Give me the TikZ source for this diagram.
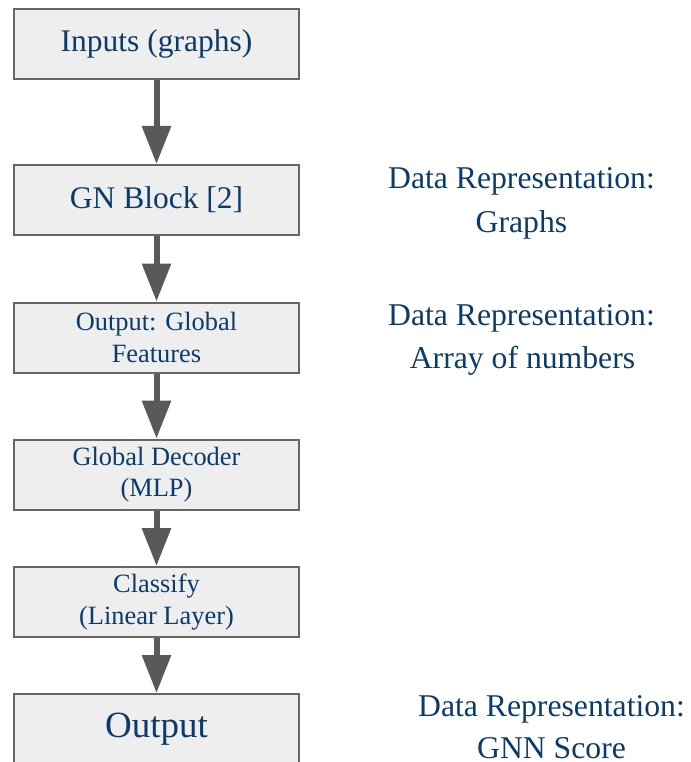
\documentclass[tikz,border=0pt]{standalone}
\usepackage{fontspec}
\setmainfont{Liberation Serif}
\usetikzlibrary{arrows.meta}
\definecolor{txtblue}{HTML}{0B3B6A}
\definecolor{boxfill}{HTML}{EEEEEE}
\definecolor{boxline}{HTML}{666666}
\definecolor{arrowgray}{HTML}{595959}
\tikzset{
  stepbox/.style={draw=boxline, line width=2pt, fill=boxfill, minimum width=285pt, minimum height=70pt, inner sep=0pt, align=center, text=txtblue},
  bigfont/.style={font=\fontsize{31.5}{36}\selectfont},
  smallfont/.style={font=\fontsize{26.4}{31.5}\selectfont},
  flowarrow/.style={draw=arrowgray, line width=6pt, -{Triangle[width=28pt,length=38pt]}, arrowgray},
  reptext/.style={text=txtblue, anchor=base, inner sep=0pt, font=\fontsize{31.7}{40}\selectfont}
}
\begin{document}
\begin{tikzpicture}[x=1pt,y=-1pt]
\useasboundingbox (0,0) rectangle (690,762);
\begin{scope}
\clip (0,0) rectangle (690,762);
\node[stepbox, bigfont] (b1) at (156.5,44) {Inputs (graphs)};
\node[stepbox, bigfont] (b2) at (156.5,200) {GN Block [2]};
\node[stepbox, smallfont] (b3) at (156.5,337.5) {Output: Global\\Features};
\node[stepbox, smallfont] (b4) at (156.5,474.5) {Global Decoder\\(MLP)};
\node[stepbox, smallfont] (b5) at (156.5,602) {Classify\\(Linear Layer)};
\node[stepbox, font=\fontsize{37}{42}\selectfont] (b6) at (156.5,729) {Output};
\draw[flowarrow] (b1.south) -- (b2.north);
\draw[flowarrow] (b2.south) -- (b3.north);
\draw[flowarrow] (b3.south) -- (b4.north);
\draw[flowarrow] (b4.south) -- (b5.north);
\draw[flowarrow] (b5.south) -- (b6.north);
\node[reptext] (r1a) at (521.5,188) {Data Representation:};
\node[reptext] (r1b) at (521.5,232) {Graphs};
\node[reptext] (r2a) at (521.5,325) {Data Representation:};
\node[reptext] (r2b) at (522.5,368) {Array of numbers};
\node[reptext] (r3a) at (551.5,716) {Data Representation:};
\node[reptext] (r3b) at (551.5,758) {GNN Score};
\end{scope}
\end{tikzpicture}
\end{document}
